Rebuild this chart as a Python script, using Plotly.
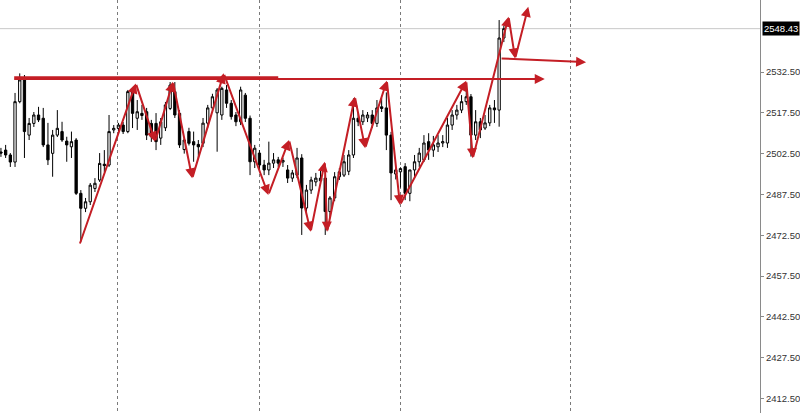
import plotly.graph_objects as go

# ---------------- data ----------------
OPEN = [2503.1, 2503.8, 2502.0, 2499.4, 2521.6, 2529.6, 2509.3, 2513.6, 2516.7, 2515.5,
        2505.7, 2502.6, 2509.3, 2510.6, 2507.1, 2505.0, 2507.5, 2487.9, 2482.4, 2484.8,
        2489.7, 2492.8, 2498.6, 2498.3, 2511.2, 2511.8, 2513.0, 2510.6, 2525.3, 2515.5,
        2517.3, 2517.9, 2513.6, 2513.6, 2508.2, 2512.0, 2519.1, 2525.3, 2517.3, 2504.0,
        2510.6, 2506.9, 2505.9, 2506.3, 2513.7, 2519.3, 2517.5, 2516.7, 2525.9, 2521.0,
        2516.7, 2514.2, 2524.0, 2515.5, 2499.5, 2502.7, 2498.3, 2496.5, 2499.0, 2500.2,
        2499.4, 2496.5, 2493.5, 2494.6, 2500.9, 2482.5, 2489.1, 2492.1, 2493.5, 2493.5,
        2481.2, 2486.2, 2494.0, 2494.6, 2496.0, 2502.0, 2515.5, 2514.2, 2515.6, 2516.7,
        2513.6, 2519.7, 2519.3, 2509.3, 2495.0, 2495.8, 2497.7, 2487.9, 2496.5, 2499.5,
        2500.2, 2506.9, 2503.8, 2505.0, 2506.4, 2506.4, 2513.0, 2516.7, 2518.5, 2521.6,
        2523.4, 2509.3, 2514.2, 2511.9, 2513.8, 2519.3, 2518.5, 2545.0]
HIGH = [2504.6, 2505.7, 2502.7, 2524.8, 2532.0, 2531.4, 2515.6, 2517.8, 2519.7, 2519.3,
        2513.8, 2511.2, 2518.5, 2514.2, 2508.7, 2510.6, 2508.2, 2489.1, 2486.2, 2491.7,
        2493.5, 2502.7, 2503.8, 2516.7, 2513.0, 2513.8, 2514.1, 2525.9, 2526.6, 2522.2,
        2520.4, 2519.3, 2514.9, 2517.4, 2515.6, 2521.5, 2528.8, 2528.8, 2518.5, 2508.5,
        2512.0, 2510.6, 2507.5, 2515.6, 2520.4, 2524.5, 2526.6, 2527.1, 2527.7, 2522.2,
        2517.8, 2527.1, 2524.8, 2516.5, 2505.7, 2503.8, 2500.2, 2506.9, 2502.7, 2501.3,
        2501.0, 2498.3, 2496.5, 2504.6, 2502.3, 2491.0, 2494.0, 2495.4, 2496.5, 2494.6,
        2486.9, 2495.7, 2497.2, 2502.0, 2503.8, 2522.8, 2517.8, 2518.5, 2517.8, 2518.5,
        2522.2, 2522.9, 2525.0, 2510.5, 2497.2, 2497.5, 2499.0, 2496.5, 2502.0, 2504.6,
        2509.3, 2510.0, 2509.0, 2509.3, 2509.3, 2515.6, 2518.5, 2520.4, 2524.0, 2525.9,
        2524.4, 2518.5, 2515.6, 2516.7, 2520.4, 2522.2, 2551.6, 2549.5]
LOW = [2501.3, 2500.9, 2497.6, 2497.6, 2521.0, 2500.9, 2507.5, 2512.3, 2514.1, 2504.9,
       2498.3, 2494.0, 2508.6, 2506.8, 2499.5, 2500.9, 2487.3, 2470.1, 2481.0, 2483.6,
       2488.4, 2492.1, 2495.7, 2497.6, 2510.0, 2510.8, 2509.7, 2510.0, 2511.9, 2511.2,
       2514.9, 2507.5, 2506.8, 2503.8, 2505.7, 2510.8, 2518.5, 2515.6, 2504.6, 2502.5,
       2505.5, 2499.5, 2500.9, 2504.9, 2512.0, 2518.5, 2503.2, 2514.9, 2519.3, 2515.0,
       2512.6, 2513.0, 2514.1, 2494.6, 2497.2, 2496.5, 2494.6, 2494.6, 2497.2, 2497.6,
       2497.6, 2491.7, 2492.1, 2493.5, 2472.6, 2479.9, 2487.7, 2490.5, 2491.5, 2472.6,
       2478.8, 2485.0, 2492.8, 2493.9, 2494.6, 2500.9, 2512.6, 2513.0, 2514.1, 2511.9,
       2512.3, 2517.8, 2503.8, 2485.4, 2493.0, 2490.0, 2485.4, 2485.0, 2493.5, 2497.6,
       2499.4, 2500.2, 2501.3, 2503.1, 2504.9, 2504.6, 2511.2, 2515.0, 2517.4, 2520.4,
       2501.4, 2507.5, 2508.2, 2511.2, 2512.6, 2513.8, 2512.4, 2543.5]
CLOSE = [2502.7, 2502.0, 2499.4, 2521.6, 2529.6, 2510.6, 2513.6, 2516.7, 2514.9, 2505.7,
         2500.2, 2509.3, 2511.8, 2507.5, 2505.7, 2506.9, 2487.9, 2482.4, 2484.8, 2490.9,
         2491.6, 2498.9, 2498.1, 2510.6, 2511.8, 2513.0, 2510.6, 2525.3, 2517.3, 2517.9,
         2516.5, 2509.3, 2508.7, 2506.9, 2514.2, 2520.4, 2527.7, 2516.7, 2505.7, 2507.5,
         2506.3, 2505.7, 2505.0, 2513.7, 2519.3, 2523.4, 2525.9, 2526.5, 2521.0, 2516.1,
         2514.2, 2525.9, 2515.5, 2499.5, 2504.5, 2498.3, 2496.5, 2499.0, 2500.2, 2499.0,
         2500.0, 2493.5, 2495.4, 2500.9, 2482.5, 2489.1, 2492.8, 2493.5, 2492.5, 2481.2,
         2486.2, 2494.0, 2495.8, 2499.5, 2502.0, 2515.5, 2514.2, 2516.7, 2516.7, 2513.6,
         2519.3, 2519.1, 2509.3, 2495.4, 2496.5, 2497.0, 2487.9, 2496.5, 2499.5, 2502.7,
         2506.4, 2503.8, 2505.7, 2506.4, 2506.9, 2513.0, 2516.7, 2518.5, 2521.6, 2523.4,
         2509.3, 2514.2, 2511.2, 2513.8, 2519.3, 2518.6, 2545.0, 2548.43]
BAR_INDEX = list(range(len(OPEN)))

# price axis ticks
Y_TICKS = [2412.5, 2427.5, 2442.5, 2457.5, 2472.5, 2487.5, 2502.5, 2517.5, 2532.5]
# vertical time separators (bar index positions)
GRID_X = [24.7, 55.0, 85.0, 121.2]

# drawn zig-zag (bar index, price)
ZIG_X = [16.7, 28.7, 32.8, 36.6, 40.7, 47.4, 56.9, 61.3, 65.9, 68.9, 69.4, 75.3, 77.5, 82.1, 84.9, 99.0, 100.4, 108.0, 109.4, 112.2]
ZIG_Y = [2468.9, 2528.3, 2506.9, 2528.9, 2493.4, 2532.0, 2487.3, 2507.5, 2473.8, 2499.5, 2473.8, 2523.4, 2504.5, 2529.3, 2483.6, 2529.3, 2500.8, 2552.8, 2537.5, 2556.5]

# horizontal levels: (x_start, x_end, y_start, y_end, has_arrow)
LEVEL_X0 = [2.5, 2.5, 106.2]
LEVEL_X1 = [59.0, 115.7, 124.5]
LEVEL_Y0 = [2530.6, 2529.9, 2537.5]
LEVEL_Y1 = [2530.6, 2529.9, 2536.1]
LEVEL_ARROW = [False, True, True]

RED = "#c41e25"

fig = go.Figure()
fig.add_trace(go.Candlestick(
    x=BAR_INDEX, open=OPEN, high=HIGH, low=LOW, close=CLOSE,
    increasing=dict(line=dict(color="black", width=1), fillcolor="white"),
    decreasing=dict(line=dict(color="black", width=1), fillcolor="black"),
    whiskerwidth=0, showlegend=False, hoverinfo="skip",
))

last = CLOSE[-1]
# current price line
fig.add_shape(type="line", xref="paper", yref="y", x0=0, x1=1, y0=last, y1=last,
              line=dict(color="#c8c8c8", width=1), layer="below")

# zig-zag arrows
for i in range(1, len(ZIG_X)):
    fig.add_annotation(x=ZIG_X[i], y=ZIG_Y[i], ax=ZIG_X[i - 1], ay=ZIG_Y[i - 1],
                       xref="x", yref="y", axref="x", ayref="y", text="",
                       showarrow=True, arrowhead=2, arrowsize=1.0, arrowwidth=2,
                       arrowcolor=RED, standoff=0, startstandoff=0)

# levels
for x0, x1, y0, y1, arr in zip(LEVEL_X0, LEVEL_X1, LEVEL_Y0, LEVEL_Y1, LEVEL_ARROW):
    fig.add_annotation(x=x1, y=y1, ax=x0, ay=y0,
                       xref="x", yref="y", axref="x", ayref="y", text="",
                       showarrow=True, arrowhead=2 if arr else 0, arrowsize=1.0,
                       arrowwidth=2, arrowcolor=RED, standoff=0, startstandoff=0)

# current price label
fig.add_annotation(x=1, xref="paper", xanchor="left", y=last, yref="y", yanchor="middle",
                   text=f"{last:.2f}", showarrow=False, bgcolor="black",
                   font=dict(color="white", size=9.5, family="Liberation Sans"),
                   borderpad=1, xshift=2)

fig.update_layout(
    width=800, height=413,
    margin=dict(l=0, r=35, t=0, b=0),
    paper_bgcolor="white", plot_bgcolor="white",
    showlegend=False,
    xaxis=dict(range=[-0.2, 161.5], rangeslider=dict(visible=False),
               tickvals=GRID_X, showticklabels=False, showgrid=True,
               gridcolor="#7a7a7a", griddash="dot", gridwidth=1,
               zeroline=False, showline=False, ticks=""),
    yaxis=dict(range=[2407.15, 2558.97], side="right", tickvals=Y_TICKS,
               tickformat=".2f", showgrid=False, zeroline=False,
               showline=True, linecolor="#8a8a8a", linewidth=1,
               ticks="outside", ticklen=3, tickcolor="#8a8a8a",
               tickfont=dict(family="Liberation Sans", size=9.5, color="#333333")),
)

fig.write_html("out.html", post_script="document.body.style.margin='0';",
               config={"displayModeBar": False})
